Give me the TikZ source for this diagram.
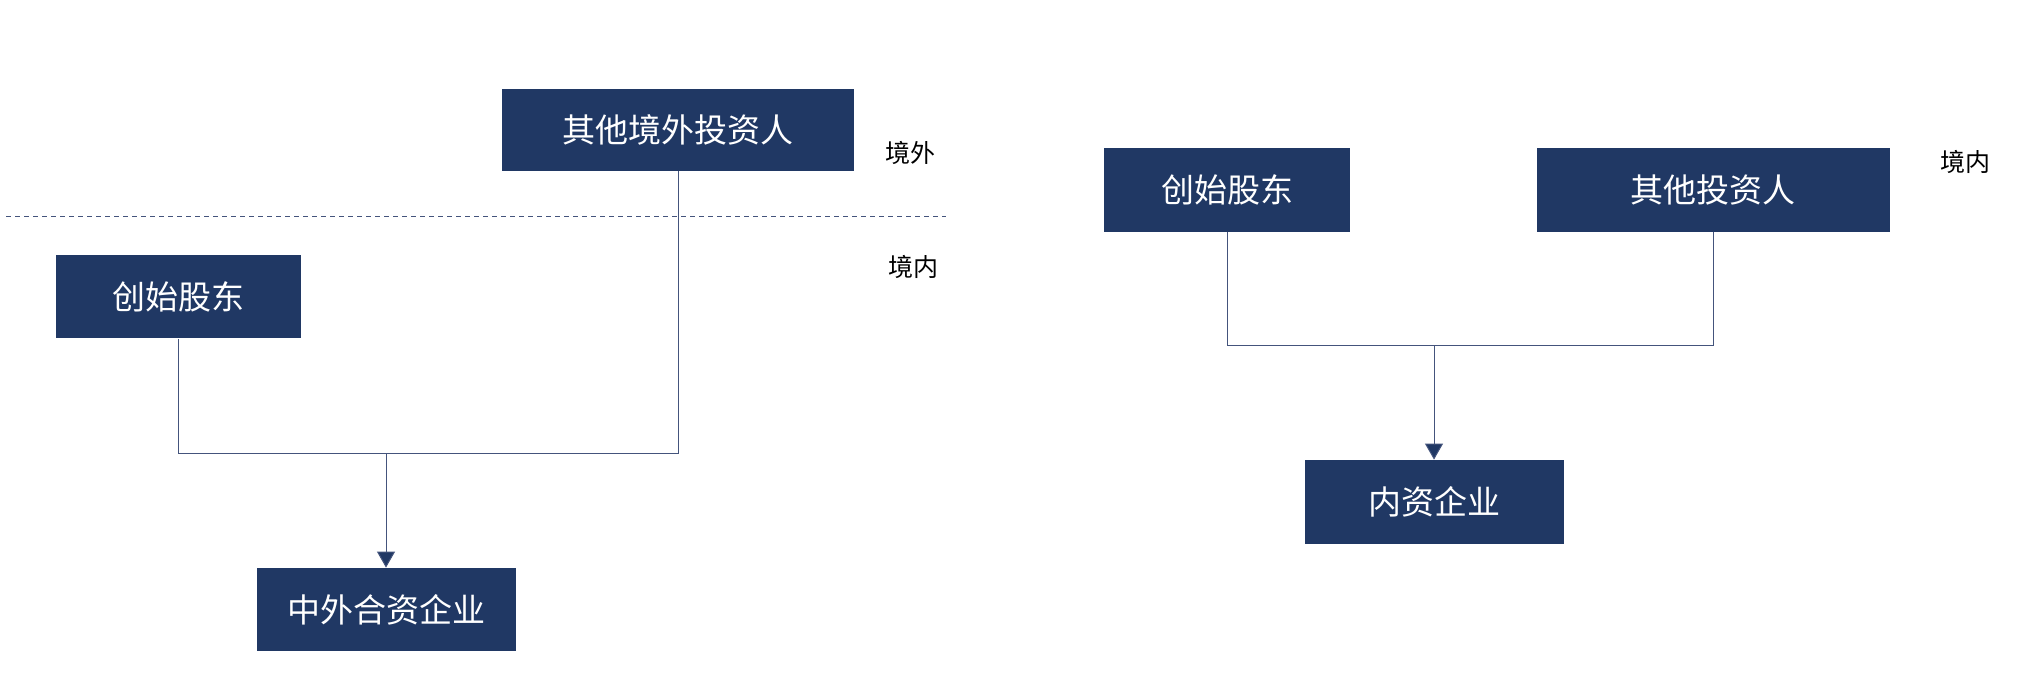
\documentclass[tikz,border=0pt]{standalone}
\usepackage{fontspec}
\newfontfamily\cjk{Noto Sans CJK SC}
\usepackage{tikz}
\usetikzlibrary{arrows.meta}
\definecolor{navy}{HTML}{203864}
\definecolor{linkblue}{HTML}{44547C}

\begin{document}
\begin{tikzpicture}[x=0.5pt,y=-0.5pt,
        entity/.style={shape=rectangle,fill=navy,text=white,inner sep=0pt,font=\cjk\fontsize{16.5}{18}\selectfont},
        side/.style={font=\cjk\fontsize{12.5}{14}\selectfont,text=black},
        link/.style={draw=linkblue,line width=0.5pt},
        flow/.style={link,-{Triangle[width=9pt,length=8pt,fill=navy]}}]
        \useasboundingbox (0,0) rectangle (2038,678);

        % left: joint venture
        \node[entity,minimum width=176pt,minimum height=41pt] (fi) at (678, 130)     {其他境外投资人};
        \node[entity,minimum width=122.5pt,minimum height=41.5pt] (fsl) at (178, 297)     {创始股东};
        \node[entity,minimum width=129.5pt,minimum height=41.5pt] (jv) at (386, 609.5)     {中外合资企业};
        \node[side] (outl) at (910, 153)     {境外};
        \node[side] (inl) at (913, 267)     {境内};
        \coordinate (bl) at (6, 217);
        \coordinate (br) at (946, 217);
        \coordinate (jl) at (386, 453);

	\draw[link,dash pattern=on 2.5pt off 2pt] (bl) -- (br);
	\draw[link] (fsl.south) |- (jl);
	\draw[link] (fi.south) |- (jl);
	\draw[flow] (jl) -- (jv.north);

        % right: domestic company
        \node[entity,minimum width=123pt,minimum height=42pt] (fsr) at (1227, 190)     {创始股东};
        \node[entity,minimum width=176.5pt,minimum height=42pt] (oi) at (1713, 190)     {其他投资人};
        \node[entity,minimum width=129.5pt,minimum height=42pt] (dc) at (1434, 502)     {内资企业};
        \node[side] (inr) at (1965, 162)     {境内};
        \coordinate (jr) at (1434, 346);

	\draw[link] (fsr.south) |- (jr);
	\draw[link] (oi.south) |- (jr);
	\draw[flow] (jr) -- (dc.north);
	\end{tikzpicture}
\end{document}
